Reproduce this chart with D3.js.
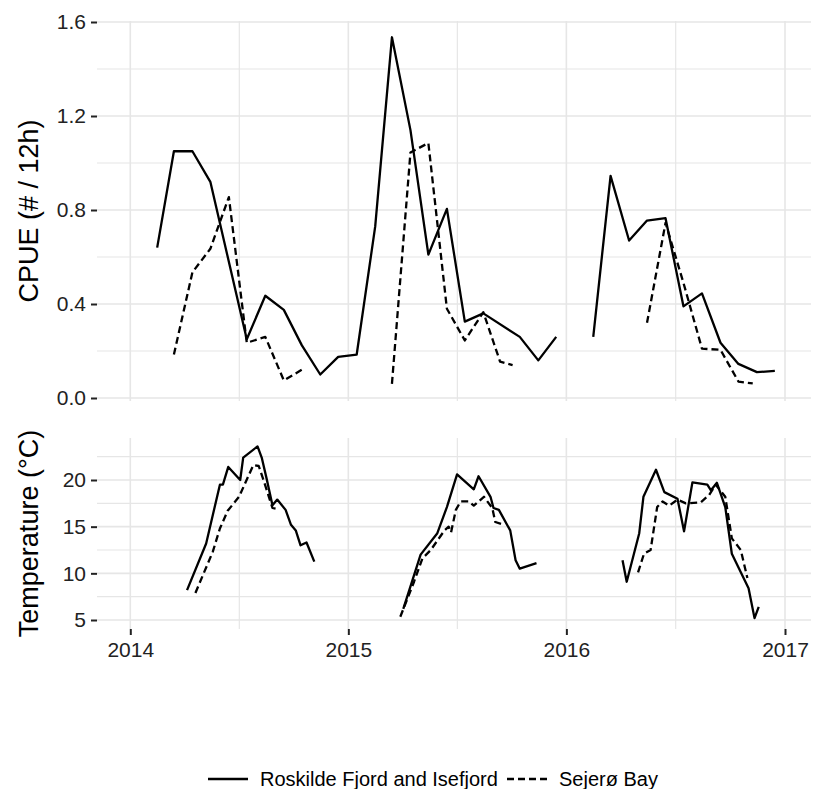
<!DOCTYPE html>
<html>
<head>
<meta charset="utf-8">
<script src="https://cdn.jsdelivr.net/npm/d3@7"></script>
<style>
  body { margin: 0; background: #fff; }
  svg text { font-family: "Liberation Sans", Arial, sans-serif; }
</style>
</head>
<body>
<svg id="chart" width="815" height="789"></svg>
<script>
// ---- data ----
var sites = ["Roskilde Fjord and Isefjord", "Sejerø Bay"];

// CPUE, monthly samples (null = break in line)
var roskildeCpueDates = ["2014-02-15","2014-03-15","2014-04-15","2014-05-15","2014-07-15","2014-08-15","2014-09-15","2014-10-15","2014-11-15","2014-12-15",
  "2015-01-15","2015-02-15","2015-03-15","2015-04-15","2015-05-15","2015-06-15","2015-07-15","2015-08-15","2015-10-15","2015-11-15","2015-12-15",
  "2016-01-15","2016-02-15","2016-03-15","2016-04-15","2016-05-15","2016-06-15","2016-07-15","2016-08-15","2016-09-15","2016-10-15","2016-11-15","2016-12-15"];
var roskildeCpue = [0.64,1.05,1.05,0.92,0.25,0.435,0.375,0.225,0.10,0.175,
  0.185,0.73,1.535,1.14,0.61,0.805,0.325,0.36,0.26,0.16,0.26,
  null,0.26,0.945,0.67,0.755,0.765,0.39,0.445,0.235,0.145,0.11,0.115];

var sejeroCpueDates = ["2014-03-15","2014-04-15","2014-05-15","2014-06-15","2014-07-15","2014-08-15","2014-09-15","2014-10-15",
  "2015-01-15","2015-03-15","2015-04-15","2015-05-15","2015-06-15","2015-07-15","2015-08-15","2015-09-12","2015-10-03",
  "2016-01-15","2016-05-15","2016-06-15","2016-07-15","2016-08-15","2016-09-15","2016-10-15","2016-11-08"];
var sejeroCpue = [0.185,0.535,0.635,0.855,0.235,0.26,0.075,0.12,
  null,0.06,1.045,1.085,0.38,0.245,0.365,0.155,0.14,
  null,0.32,0.745,0.49,0.21,0.205,0.07,0.062];

// Temperature
var roskildeTempDates = ["2014-04-06","2014-05-08","2014-05-31","2014-06-05","2014-06-14","2014-07-04","2014-07-09","2014-08-02","2014-08-09","2014-08-17",
  "2014-08-27","2014-09-04","2014-09-18","2014-09-27","2014-10-05","2014-10-13","2014-10-23","2014-11-05",
  "2015-01-01",
  "2015-04-03","2015-05-02","2015-05-30","2015-06-15","2015-07-02","2015-07-30","2015-08-07","2015-08-27","2015-09-01","2015-09-10",
  "2015-09-29","2015-10-08","2015-10-15","2015-11-12",
  "2016-01-01",
  "2016-04-04","2016-04-11","2016-05-02","2016-05-09","2016-05-30","2016-06-13","2016-07-05","2016-07-16","2016-07-30","2016-08-24",
  "2016-08-30","2016-09-09","2016-09-23","2016-10-04","2016-11-01","2016-11-11","2016-11-18"];
var roskildeTemp = [8.2,13.2,19.5,19.5,21.4,20.0,22.4,23.6,22.4,20.2,
  17.3,17.9,16.8,15.2,14.6,13.0,13.3,11.25,
  null,
  6.2,12.0,14.3,17.1,20.6,19.0,20.4,18.2,17.0,16.8,
  14.6,11.4,10.5,11.1,
  null,
  11.4,9.1,14.3,18.2,21.1,18.7,18.0,14.5,19.75,19.5,
  18.9,19.7,17.1,12.1,8.4,5.2,6.4];

var sejeroTempDates = ["2014-04-20","2014-05-19","2014-05-31","2014-06-13","2014-07-02","2014-07-26","2014-08-04","2014-08-13","2014-08-27","2014-09-03",
  "2015-01-01",
  "2015-03-29","2015-04-21","2015-05-05","2015-05-19","2015-06-11","2015-06-18","2015-06-22","2015-06-30","2015-07-08","2015-07-22",
  "2015-07-30","2015-08-16","2015-08-30","2015-09-04","2015-09-18",
  "2016-01-01",
  "2016-04-30","2016-05-10","2016-05-21","2016-06-01","2016-06-10","2016-06-21","2016-07-05","2016-07-19","2016-08-13","2016-08-27",
  "2016-09-07","2016-09-23","2016-10-04","2016-10-19","2016-10-30"];
var sejeroTemp = [7.9,12.3,14.8,16.7,18.2,21.6,21.5,19.8,17.0,16.9,
  null,
  5.35,9.1,11.6,12.5,14.6,15.0,14.4,16.8,17.7,17.7,
  17.25,18.2,17.0,15.5,15.2,
  null,
  10.1,12.1,12.5,17.1,17.7,17.25,17.9,17.5,17.6,18.4,
  19.5,18.2,13.75,12.5,9.5];

var yearTicks = ["2014","2015","2016","2017"];
var cpueTicks = [0, 0.4, 0.8, 1.2, 1.6];
var cpueMinor = [0.2, 0.6, 1.0, 1.4];
var tempTicks = [5, 10, 15, 20];
var tempMinor = [7.5, 12.5, 17.5, 22.5];

// ---- layout ----
var svg = d3.select("#chart");
var left = 97, right = 811;
var top1 = 21, bot1 = 401;
var top2 = 438, bot2 = 629;
var gridCol = "#e6e6e6";
var dashPat = "7,4";

var parse = d3.timeParse("%Y-%m-%d");
var x = d3.scaleTime()
  .domain([parse("2014-01-01"), parse("2017-01-01")])
  .range([130.3, 785]);
var yC = d3.scaleLinear().domain([0, 1.6]).range([398, 22]);
var yT = d3.scaleLinear().domain([5, 20]).range([620, 480]);

var majorX = yearTicks.map(function(d) { return parse(d + "-01-01"); });
var minorX = [];
for (var i = 0; i < majorX.length - 1; i++)
  minorX.push(new Date((majorX[i].getTime() + majorX[i + 1].getTime()) / 2));

function makeRows(dates, vals) {
  return dates.map(function(d, i) { return { date: parse(d), v: vals[i] }; });
}

function drawPanel(top, bot, y, majorY, minorY, fmt, series) {
  var g = svg.append("g");
  // grid
  g.selectAll(".hmin").data(minorY).enter().append("line")
    .attr("x1", left).attr("x2", right)
    .attr("y1", function(d) { return y(d); }).attr("y2", function(d) { return y(d); })
    .attr("stroke", gridCol).attr("stroke-width", 1.2);
  g.selectAll(".vmin").data(minorX).enter().append("line")
    .attr("x1", function(d) { return x(d); }).attr("x2", function(d) { return x(d); })
    .attr("y1", top).attr("y2", bot)
    .attr("stroke", gridCol).attr("stroke-width", 1.2);
  g.selectAll(".hmaj").data(majorY).enter().append("line")
    .attr("x1", left).attr("x2", right)
    .attr("y1", function(d) { return y(d); }).attr("y2", function(d) { return y(d); })
    .attr("stroke", gridCol).attr("stroke-width", 1.6);
  g.selectAll(".vmaj").data(majorX).enter().append("line")
    .attr("x1", function(d) { return x(d); }).attr("x2", function(d) { return x(d); })
    .attr("y1", top).attr("y2", bot)
    .attr("stroke", gridCol).attr("stroke-width", 1.6);

  // y axis
  var ax = g.append("g").attr("transform", "translate(" + left + ",0)")
    .call(d3.axisLeft(y).tickValues(majorY).tickFormat(fmt).tickSize(6).tickPadding(5));
  ax.select(".domain").remove();
  ax.selectAll(".tick line").attr("stroke", "#222").attr("stroke-width", 2);
  ax.selectAll(".tick text").attr("fill", "#222").style("font-size", "21px")
    .style("font-family", "'Liberation Sans', Arial, sans-serif");

  // lines
  var line = d3.line()
    .defined(function(d) { return d.v != null; })
    .x(function(d) { return x(d.date); })
    .y(function(d) { return y(d.v); });
  series.forEach(function(s, k) {
    g.append("path").datum(s)
      .attr("d", line)
      .attr("fill", "none")
      .attr("stroke", "#000")
      .attr("stroke-width", 2.3)
      .attr("stroke-linejoin", "round")
      .attr("stroke-dasharray", k == 1 ? dashPat : null);
  });
  return g;
}

drawPanel(top1, bot1, yC, cpueTicks, cpueMinor, d3.format(".1f"),
  [makeRows(roskildeCpueDates, roskildeCpue), makeRows(sejeroCpueDates, sejeroCpue)]);
drawPanel(top2, bot2, yT, tempTicks, tempMinor, d3.format("d"),
  [makeRows(roskildeTempDates, roskildeTemp), makeRows(sejeroTempDates, sejeroTemp)]);

// x axis (bottom panel only)
var xa = svg.append("g").attr("transform", "translate(0," + bot2 + ")")
  .call(d3.axisBottom(x).tickValues(majorX).tickFormat(d3.timeFormat("%Y")).tickSize(6).tickPadding(7));
xa.select(".domain").remove();
xa.selectAll(".tick line").attr("stroke", "#222").attr("stroke-width", 2);
xa.selectAll(".tick text").attr("fill", "#222").style("font-size", "21px")
  .style("font-family", "'Liberation Sans', Arial, sans-serif");

// axis titles
svg.append("text")
  .attr("transform", "translate(38," + ((top1 + bot1) / 2) + ") rotate(-90)")
  .attr("text-anchor", "middle")
  .style("font-size", "27px").attr("fill", "#000")
  .text("CPUE (# / 12h)");
svg.append("text")
  .attr("transform", "translate(38," + ((top2 + bot2) / 2) + ") rotate(-90)")
  .attr("text-anchor", "middle")
  .style("font-size", "27px").attr("fill", "#000")
  .text("Temperature (°C)");

// legend
var legY = 779;
var leg = svg.append("g");
var legItems = [
  { label: sites[0], x0: 208, dash: null },
  { label: sites[1], x0: 507, dash: dashPat }
];
legItems.forEach(function(it) {
  leg.append("line")
    .attr("x1", it.x0).attr("x2", it.x0 + 40)
    .attr("y1", legY).attr("y2", legY)
    .attr("stroke", "#000").attr("stroke-width", 2.3)
    .attr("stroke-dasharray", it.dash);
  leg.append("text")
    .attr("x", it.x0 + 52).attr("y", legY + 7)
    .style("font-size", "20px").attr("fill", "#000")
    .text(it.label);
});
</script>
</body>
</html>
